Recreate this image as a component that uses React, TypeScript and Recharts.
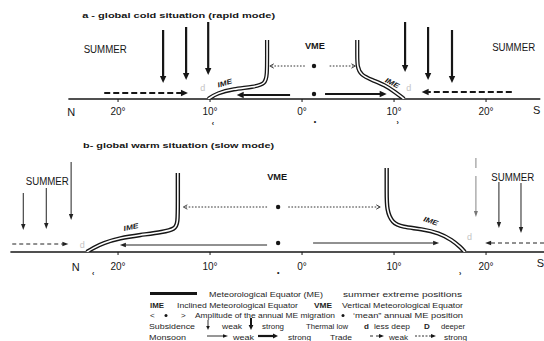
import React from 'react';
import { ComposedChart, Line, XAxis, YAxis, ReferenceLine, ReferenceDot } from 'recharts';

const FONT = '"Liberation Sans", Arial, Helvetica, sans-serif';
const INK = '#161616';

// ---------- shared latitude axis (negative = North, positive = South) ----------
const LAT_TICKS = [-20, -10, 0, 10, 20];
const LAT_DOMAIN: [number, number] = [-32.83, 26.3];

// ---------- panel a : global cold situation (rapid mode) ----------
// y = height above the latitude axis (arbitrary schematic units)
const coldTitle = { text: 'a  -  global  cold  situation  (rapid  mode)', x: -23.9, y: 84 };
const coldAxis = { from: -25.4, to: 25.9 };
const coldImeNorth = [
  { x: -10.2, y: 0 }, { x: -9.2, y: 6 }, { x: -7.5, y: 10 }, { x: -5.3, y: 12 },
  { x: -4.0, y: 15 }, { x: -3.8, y: 24 }, { x: -3.8, y: 45 }, { x: -3.8, y: 59 },
];
const coldImeSouth = [
  { x: 6.0, y: 59 }, { x: 6.0, y: 45 }, { x: 6.0, y: 32 }, { x: 6.4, y: 24 }, { x: 7.6, y: 19 },
  { x: 9.0, y: 14 }, { x: 10.1, y: 7 }, { x: 11.1, y: 0 },
];
const coldSubsidence = [
  { x: -15.1, top: 69, bottom: 16 }, { x: -12.6, top: 72, bottom: 19 }, { x: -10.2, top: 77, bottom: 24 },
  { x: 11.2, top: 77, bottom: 27 }, { x: 13.7, top: 72, bottom: 19 }, { x: 16.3, top: 69, bottom: 16 },
];
const coldTrade = [ { from: -21.5, to: -12.4, y: 6 }, { from: 22.8, to: 13.0, y: 7 } ];
const coldMonsoon = [ { from: -1.3, to: -7.1, y: 4 }, { from: 2.5, to: 9.2, y: 5 } ];
const coldMigration = [ { from: 0.3, to: -3.5, y: 33 }, { from: 3.0, to: 5.8, y: 33 } ];
const coldMeanDots = [ { x: 1.3, y: 5 }, { x: 1.3, y: 33 } ];
const coldThermalLows = [ { x: -10.8, y: 11 }, { x: 11.6, y: 11 } ];
const coldSummer = [ { x: -21.4, y: 50 }, { x: 23.0, y: 52 } ];
const coldVme = { x: 1.4, y: 53 };
const coldIme = [ { x: -8.4, y: 16, angle: -17 }, { x: 9.8, y: 16, angle: 28 } ];
const coldPoles = [ { text: 'N', x: -25.1, y: -13 }, { text: 'S', x: 25.5, y: -11 } ];
const coldAmplitude = [ { text: '‹', x: -9.7, y: -24 }, { text: '•', x: 1.4, y: -22 }, { text: '›', x: 10.4, y: -23 } ];

// ---------- panel b : global warm situation (slow mode) ----------
const warmTitle = { text: 'b-  global  warm  situation  (slow  mode)', x: -23.8, y: 107 };
const warmAxis = { from: -31.7, to: 26.3 };
const warmImeNorth = [
  { x: -13.5, y: 79 }, { x: -13.5, y: 50 }, { x: -13.5, y: 29 }, { x: -13.8, y: 23 }, { x: -15.1, y: 20 },
  { x: -17.6, y: 17 }, { x: -19.8, y: 14 }, { x: -21.6, y: 9 }, { x: -22.7, y: 4 }, { x: -23.4, y: 0 },
];
const warmImeSouth = [
  { x: 9.2, y: 84 }, { x: 9.2, y: 60 }, { x: 9.2, y: 42 }, { x: 9.8, y: 29 }, { x: 10.9, y: 25 },
  { x: 13.0, y: 23 }, { x: 14.9, y: 19 }, { x: 16.3, y: 12 }, { x: 17.2, y: 5 }, { x: 17.7, y: 0 },
];
const warmSubsidence = [
  { x: -30.3, top: 59, bottom: 22 }, { x: -27.8, top: 64, bottom: 23 }, { x: -25.1, top: 90, bottom: 32 },
  { x: 21.4, top: 70, bottom: 24 }, { x: 23.8, top: 69, bottom: 19 },
];
const warmFaintSubsidence = [ { x: 18.9, top: 94, bottom: 35 } ];
const warmTrade = [ { from: -31.5, to: -25.4, y: 8 }, { from: 26.3, to: 19.9, y: 9 } ];
const warmMonsoon = [ { from: -3.8, to: -19.8, y: 7 }, { from: 1.2, to: 14.9, y: 9 } ];
const warmMigration = [ { from: -3.8, to: -12.9, y: 45 }, { from: -1.5, to: 8.5, y: 45 } ];
const warmMeanDots = [ { x: -2.6, y: 9 }, { x: -2.6, y: 45 } ];
const warmThermalLows = [ { x: -23.9, y: 7 }, { x: 18.2, y: 15 } ];
const warmSummer = [ { x: -27.7, y: 71 }, { x: 22.9, y: 75 } ];
const warmVme = { x: -2.7, y: 75 };
const warmIme = [ { x: -18.6, y: 25, angle: -12 }, { x: 14.0, y: 31, angle: 18 } ];
const warmPoles = [ { text: 'N', x: -24.6, y: -15 }, { text: 'S', x: 25.9, y: -11 } ];
const warmAmplitude = [ { text: '‹', x: -22.7, y: -21 }, { text: '•', x: -2.6, y: -20 }, { text: '›', x: 17.2, y: -21 } ];

// ---------- drawing helpers ----------
type ArrowStyle = { width: number; head: number; headW: number; dash?: string; color?: string; open?: boolean };

const arrowShape = (s: ArrowStyle) => (p: any) => {
  const { x1, y1, x2, y2 } = p;
  if (![x1, y1, x2, y2].every((v: any) => Number.isFinite(v))) return <g />;
  const dx = x2 - x1, dy = y2 - y1;
  const len = Math.hypot(dx, dy) || 1;
  const ux = dx / len, uy = dy / len, nx = -uy, ny = ux;
  const bx = x2 - ux * s.head, by = y2 - uy * s.head;
  const c = s.color ?? INK;
  const ex = s.open ? x2 - ux : bx + ux * 0.5;
  const ey = s.open ? y2 - uy : by + uy * 0.5;
  return (
    <g>
      <line x1={x1} y1={y1} x2={ex} y2={ey} stroke={c} strokeWidth={s.width} strokeDasharray={s.dash} />
      {s.open ? (
        <polyline points={`${bx + nx * s.headW},${by + ny * s.headW} ${x2},${y2} ${bx - nx * s.headW},${by - ny * s.headW}`} fill="none" stroke={c} strokeWidth={0.9} />
      ) : (
        <polygon points={`${x2},${y2} ${bx + nx * s.headW},${by + ny * s.headW} ${bx - nx * s.headW},${by - ny * s.headW}`} fill={c} />
      )}
    </g>
  );
};

type TextStyle = { size: number; weight?: string | number; anchor?: 'start' | 'middle' | 'end'; rotate?: number; len?: number; fill?: string; italic?: boolean };
const textShape = (str: string, s: TextStyle) => (p: any) => (
  <text
    x={p.cx}
    y={p.cy}
    dy="0.36em"
    fontSize={s.size}
    fontFamily={FONT}
    fontWeight={s.weight ?? 'normal'}
    fontStyle={s.italic ? 'italic' : 'normal'}
    textAnchor={s.anchor ?? 'middle'}
    fill={s.fill ?? INK}
    transform={s.rotate ? `rotate(${s.rotate} ${p.cx} ${p.cy})` : undefined}
    textLength={s.len}
    lengthAdjust={s.len ? 'spacingAndGlyphs' : undefined}
  >
    {str}
  </text>
);

const THICK: ArrowStyle = { width: 2.2, head: 7, headW: 3.2 };
const THICK_DASH: ArrowStyle = { width: 2.2, head: 7, headW: 3.2, dash: '6 3' };
const THIN: ArrowStyle = { width: 1, head: 6, headW: 2.2, color: '#222' };
const THIN_DASH: ArrowStyle = { width: 1, head: 6, headW: 2.2, dash: '4 3', color: '#222' };
const DOTTED: ArrowStyle = { width: 1, head: 4, headW: 2.2, dash: '1.6 1.6', open: true, color: '#333' };
const FAINT: ArrowStyle = { width: 0.9, head: 6, headW: 2, dash: '10 8 200', color: '#777' };

type PanelProps = {
  height: number;
  axisHeight: number;
  yMax: number;
  tickMargin: number;
  title: { text: string; x: number; y: number };
  titleLen: number;
  axis: { from: number; to: number };
  imeNorth: { x: number; y: number }[];
  imeSouth: { x: number; y: number }[];
  subsidence: { x: number; top: number; bottom: number }[];
  faint: { x: number; top: number; bottom: number }[];
  trade: { from: number; to: number; y: number }[];
  monsoon: { from: number; to: number; y: number }[];
  migration: { from: number; to: number; y: number }[];
  meanDots: { x: number; y: number }[];
  lows: { x: number; y: number }[];
  summer: { x: number; y: number }[];
  vme: { x: number; y: number };
  ime: { x: number; y: number; angle: number }[];
  poles: { text: string; x: number; y: number }[];
  amplitude: { text: string; x: number; y: number }[];
  strong: boolean;
};

function Panel(pp: PanelProps) {
  const vArrow = pp.strong ? THICK : THIN;
  const hSolid = pp.strong ? THICK : THIN;
  const hDash = pp.strong ? THICK_DASH : THIN_DASH;
  const outerW = pp.strong ? 4.2 : 4.4;
  return (
    <ComposedChart width={544} height={pp.height} margin={{ top: 0, right: 0, bottom: 0, left: 0 }}>
      <XAxis
        dataKey="x"
        type="number"
        domain={LAT_DOMAIN}
        allowDataOverflow
        ticks={LAT_TICKS}
        interval={0}
        height={pp.axisHeight}
        axisLine={false}
        tickLine={{ stroke: INK, strokeWidth: 1 }}
        tickSize={3}
        tickMargin={pp.tickMargin}
        tick={{ fontSize: 10, fill: INK, fontFamily: FONT }}
        tickFormatter={(v: number) => `${Math.abs(v)}°`}
      />
      <YAxis type="number" domain={[0, pp.yMax]} allowDataOverflow hide />

      <ReferenceLine
        segment={[{ x: pp.axis.from, y: 0 }, { x: pp.axis.to, y: 0 }]}
        stroke={INK}
        strokeWidth={1.5}
        ifOverflow="visible"
      />

      {pp.subsidence.map((a, i) => (
        <ReferenceLine key={`s${i}`} segment={[{ x: a.x, y: a.top }, { x: a.x, y: a.bottom }]} shape={arrowShape(vArrow)} ifOverflow="visible" />
      ))}
      {pp.faint.map((a, i) => (
        <ReferenceLine key={`f${i}`} segment={[{ x: a.x, y: a.top }, { x: a.x, y: a.bottom }]} shape={arrowShape(FAINT)} ifOverflow="visible" />
      ))}
      {pp.trade.map((a, i) => (
        <ReferenceLine key={`t${i}`} segment={[{ x: a.from, y: a.y }, { x: a.to, y: a.y }]} shape={arrowShape(hDash)} ifOverflow="visible" />
      ))}
      {pp.monsoon.map((a, i) => (
        <ReferenceLine key={`m${i}`} segment={[{ x: a.from, y: a.y }, { x: a.to, y: a.y }]} shape={arrowShape(hSolid)} ifOverflow="visible" />
      ))}
      {pp.migration.map((a, i) => (
        <ReferenceLine key={`g${i}`} segment={[{ x: a.from, y: a.y }, { x: a.to, y: a.y }]} shape={arrowShape(DOTTED)} ifOverflow="visible" />
      ))}

      <Line data={pp.imeNorth} dataKey="y" type="basis" stroke={INK} strokeWidth={outerW} dot={false} activeDot={false} isAnimationActive={false} />
      <Line data={pp.imeNorth} dataKey="y" type="basis" stroke="#fff" strokeWidth={1.6} dot={false} activeDot={false} isAnimationActive={false} />
      <Line data={pp.imeSouth} dataKey="y" type="basis" stroke={INK} strokeWidth={outerW} dot={false} activeDot={false} isAnimationActive={false} />
      <Line data={pp.imeSouth} dataKey="y" type="basis" stroke="#fff" strokeWidth={1.6} dot={false} activeDot={false} isAnimationActive={false} />

      {pp.meanDots.map((d, i) => (
        <ReferenceDot key={`d${i}`} x={d.x} y={d.y} r={2.2} fill={INK} stroke="none" ifOverflow="visible" />
      ))}
      {pp.lows.map((d, i) => (
        <ReferenceDot key={`l${i}`} x={d.x} y={d.y} r={0} ifOverflow="visible" shape={textShape('d', { size: 9, fill: '#c4c4c4' })} />
      ))}

      <ReferenceDot x={pp.title.x} y={pp.title.y} r={0} ifOverflow="visible" shape={textShape(pp.title.text, { size: 8, weight: 'bold', anchor: 'start', len: pp.titleLen })} />
      {pp.summer.map((d, i) => (
        <ReferenceDot key={`su${i}`} x={d.x} y={d.y} r={0} ifOverflow="visible" shape={textShape('SUMMER', { size: 10, len: 43 })} />
      ))}
      <ReferenceDot x={pp.vme.x} y={pp.vme.y} r={0} ifOverflow="visible" shape={textShape('VME', { size: 9, weight: 'bold', len: 20 })} />
      {pp.ime.map((d, i) => (
        <ReferenceDot key={`i${i}`} x={d.x} y={d.y} r={0} ifOverflow="visible" shape={textShape('IME', { size: 7, weight: 'bold', italic: true, rotate: d.angle, len: 15 })} />
      ))}
      {pp.poles.map((d, i) => (
        <ReferenceDot key={`p${i}`} x={d.x} y={d.y} r={0} ifOverflow="visible" shape={textShape(d.text, { size: 11 })} />
      ))}
      {pp.amplitude.map((d, i) => (
        <ReferenceDot key={`a${i}`} x={d.x} y={d.y} r={0} ifOverflow="visible" shape={textShape(d.text, { size: 7, weight: 'bold' })} />
      ))}
    </ComposedChart>
  );
}

// ---------- legend (drawn in page pixels) ----------
function LegendText({ x, y, w, children, bold }: { x: number; y: number; w?: number; children: React.ReactNode; bold?: boolean }) {
  return (
    <text x={x} y={y} fontSize={8} fontFamily={FONT} fill="#1e1e1e" fontWeight={bold ? 'bold' : 'normal'} textLength={w} lengthAdjust={w ? 'spacingAndGlyphs' : undefined}>
      {children}
    </text>
  );
}

function Legend() {
  const a = (x1: number, y1: number, x2: number, y2: number, s: ArrowStyle) => arrowShape(s)({ x1, y1, x2, y2 });
  const L1 = 297, L2 = 307.5, L3 = 318, L4 = 329, L5 = 339.5;
  return (
    <svg width={544} height={341} style={{ position: 'absolute', left: 0, top: 0 }}>
      <line x1={150} y1={L1 - 3.5} x2={197} y2={L1 - 3.5} stroke={INK} strokeWidth={3} />
      <LegendText x={209} y={L1} w={114}>Meteorological Equator (ME)</LegendText>
      <LegendText x={343} y={L1} w={119}>summer extreme positions</LegendText>

      <LegendText x={150} y={L2} w={14} bold>IME</LegendText>
      <LegendText x={177} y={L2} w={121}>Inclined Meteorological Equator</LegendText>
      <LegendText x={314} y={L2} w={18} bold>VME</LegendText>
      <LegendText x={342} y={L2} w={121}>Vertical Meteorological Equator</LegendText>

      <LegendText x={150} y={L3}>{'<'}</LegendText>
      <circle cx={166} cy={L3 - 2.5} r={1.5} fill={INK} />
      <LegendText x={181} y={L3}>{'>'}</LegendText>
      <LegendText x={195} y={L3} w={140}>Amplitude of the annual ME migration</LegendText>
      <circle cx={343} cy={L3 - 2.5} r={1.5} fill={INK} />
      <LegendText x={353} y={L3} w={110}>‘mean” annual ME position</LegendText>

      <LegendText x={149} y={L4} w={46}>Subsidence</LegendText>
      {a(208, L4 - 9, 208, L4 + 1, { width: 0.9, head: 4, headW: 1.8 })}
      <LegendText x={222} y={L4} w={20}>weak</LegendText>
      {a(251, L4 - 11, 251, L4 + 1, { width: 2, head: 5, headW: 2.4 })}
      <LegendText x={262} y={L4} w={22}>strong</LegendText>
      <LegendText x={306} y={L4} w={42}>Thermal low</LegendText>
      <LegendText x={364} y={L4} bold>d</LegendText>
      <LegendText x={374} y={L4} w={36}>less deep</LegendText>
      <LegendText x={424} y={L4} bold>D</LegendText>
      <LegendText x={441} y={L4} w={24}>deeper</LegendText>

      <LegendText x={149} y={L5} w={37}>Monsoon</LegendText>
      {a(207, L5 - 3.5, 228, L5 - 3.5, { width: 0.9, head: 5, headW: 1.8 })}
      <LegendText x={233} y={L5} w={21}>weak</LegendText>
      {a(258, L5 - 3.5, 278, L5 - 3.5, { width: 2.2, head: 5, headW: 2.4 })}
      <LegendText x={288} y={L5} w={23}>strong</LegendText>
      <LegendText x={330} y={L5} w={22}>Trade</LegendText>
      {a(370, L5 - 3.5, 384, L5 - 3.5, { width: 0.9, head: 5, headW: 2, dash: '3 3' })}
      <LegendText x={389} y={L5} w={19}>weak</LegendText>
      {a(415, L5 - 3.5, 436, L5 - 3.5, { width: 0.9, head: 5, headW: 2, dash: '2 1.5' })}
      <LegendText x={444} y={L5} w={23}>strong</LegendText>
    </svg>
  );
}

export default function App() {
  return (
    <div style={{ position: 'absolute', left: 0, top: 0, width: 544, height: 341, background: '#fff', overflow: 'hidden' }}>
      <Legend />
      <div style={{ position: 'absolute', left: 0, top: 0 }}>
        <Panel
          height={128}
          axisHeight={29}
          yMax={99}
          tickMargin={6}
          title={coldTitle}
          titleLen={193}
          axis={coldAxis}
          imeNorth={coldImeNorth}
          imeSouth={coldImeSouth}
          subsidence={coldSubsidence}
          faint={[]}
          trade={coldTrade}
          monsoon={coldMonsoon}
          migration={coldMigration}
          meanDots={coldMeanDots}
          lows={coldThermalLows}
          summer={coldSummer}
          vme={coldVme}
          ime={coldIme}
          poles={coldPoles}
          amplitude={coldAmplitude}
          strong
        />
      </div>
      <div style={{ position: 'absolute', left: 0, top: 128 }}>
        <Panel
          height={154}
          axisHeight={30}
          yMax={124}
          tickMargin={8}
          title={warmTitle}
          titleLen={191}
          axis={warmAxis}
          imeNorth={warmImeNorth}
          imeSouth={warmImeSouth}
          subsidence={warmSubsidence}
          faint={warmFaintSubsidence}
          trade={warmTrade}
          monsoon={warmMonsoon}
          migration={warmMigration}
          meanDots={warmMeanDots}
          lows={warmThermalLows}
          summer={warmSummer}
          vme={warmVme}
          ime={warmIme}
          poles={warmPoles}
          amplitude={warmAmplitude}
          strong={false}
        />
      </div>
    </div>
  );
}
